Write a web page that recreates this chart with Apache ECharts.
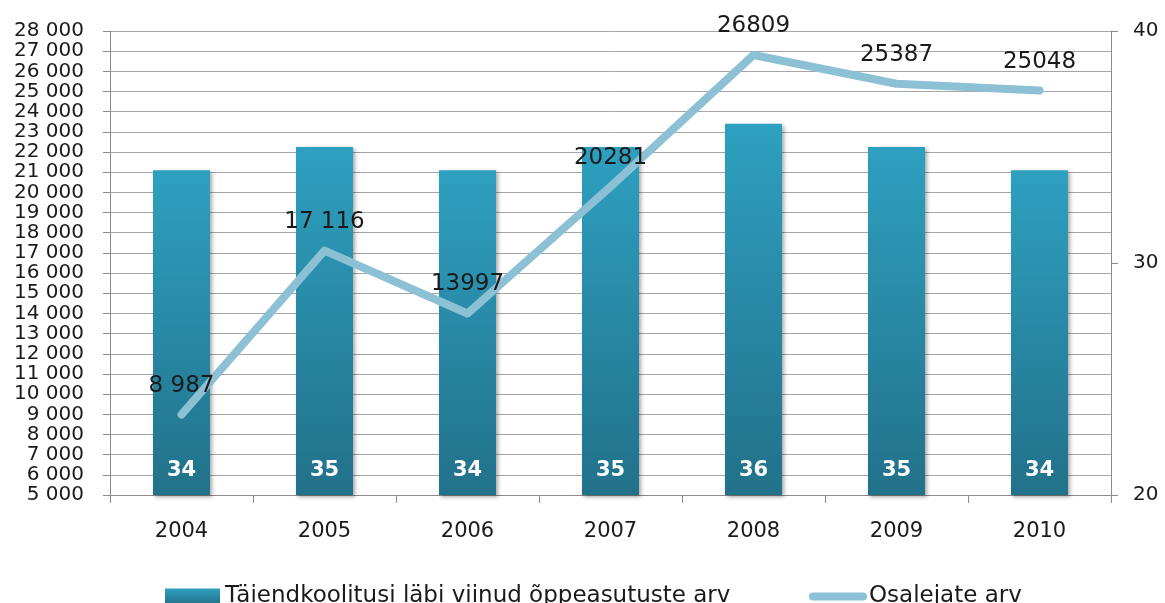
<!DOCTYPE html>
<html>
<head>
<meta charset="utf-8">
<script src="https://cdn.jsdelivr.net/npm/echarts@6/dist/echarts.min.js"></script>
<style>
html,body{margin:0;padding:0;background:#fff;}
#main{width:1165px;height:603px;}
</style>
</head>
<body>
<div id="main"></div>
<script>
const categories = ['2004', '2005', '2006', '2007', '2008', '2009', '2010'];
const institutions = [34, 35, 34, 35, 36, 35, 34];
const participants = [8987, 17116, 13997, 20281, 26809, 25387, 25048];
const participantLabels = ['8 987', '17 116', '13997', '20281', '26809', '25387', '25048'];
const barName = 'Täiendkoolitusi läbi viinud õppeasutuste arv';
const lineName = 'Osalejate arv';

const font = 'DejaVu Sans';
const chart = echarts.init(document.getElementById('main'), null, {renderer: 'canvas'});

function fmtThousands(v) {
  const s = String(v);
  if (s.length <= 3) return s;
  return s.slice(0, s.length - 3) + ' ' + s.slice(s.length - 3);
}

chart.setOption({
  animation: false,
  backgroundColor: '#ffffff',
  grid: {left: 110, right: 54, top: 31, bottom: 108, containLabel: false},
  legend: [
    {
      data: [{name: barName, icon: 'rect'}],
      left: 160, top: 580,
      itemWidth: 55, itemHeight: 16, itemGap: 10,
      textStyle: {fontFamily: font, fontSize: 23, color: '#1a1a1a'}
    },
    {
      data: [{name: lineName, icon: 'path://M4,0 L54,0 A4,4 0 0 1 54,8 L4,8 A4,4 0 0 1 4,0 Z', itemStyle: {color: '#8cc1d5'}}],
      left: 804, top: 580,
      itemWidth: 58, itemHeight: 8,
      textStyle: {fontFamily: font, fontSize: 23, color: '#1a1a1a', padding: [0, 0, 0, -3]}
    }
  ],
  xAxis: {
    type: 'category',
    data: categories,
    boundaryGap: true,
    axisLine: {show: true, lineStyle: {color: '#8c8c8c', width: 1}},
    axisTick: {show: true, length: 8, lineStyle: {color: '#8c8c8c'}},
    axisLabel: {fontFamily: font, fontSize: 21, color: '#1a1a1a', margin: 26}
  },
  yAxis: [
    {
      type: 'value',
      min: 5000, max: 28000, interval: 1000,
      position: 'left',
      axisLine: {show: true, lineStyle: {color: '#8c8c8c', width: 1}},
      axisTick: {show: true, length: 7, lineStyle: {color: '#8c8c8c'}},
      splitLine: {show: true, lineStyle: {color: '#a6a6a6', width: 1}},
      axisLabel: {fontFamily: font, fontSize: 20, color: '#1a1a1a', margin: 26, formatter: fmtThousands}
    },
    {
      type: 'value',
      min: 20, max: 40, interval: 10,
      position: 'right',
      axisLine: {show: true, lineStyle: {color: '#8c8c8c', width: 1}},
      axisTick: {show: true, length: 7, lineStyle: {color: '#8c8c8c'}},
      splitLine: {show: false},
      axisLabel: {fontFamily: font, fontSize: 20, color: '#1a1a1a', margin: 22}
    }
  ],
  series: [
    {
      name: barName,
      type: 'bar',
      yAxisIndex: 1,
      data: institutions,
      barWidth: 57,
      itemStyle: {
        color: new echarts.graphic.LinearGradient(0, 0, 0, 1, [
          {offset: 0, color: '#2ea0c0'},
          {offset: 1, color: '#22718a'}
        ]),
        shadowColor: 'rgba(0,0,0,0.35)',
        shadowBlur: 4,
        shadowOffsetX: 2,
        shadowOffsetY: 2
      },
      label: {
        show: true,
        position: 'insideBottom',
        distance: 14,
        color: '#ffffff',
        fontFamily: font,
        fontWeight: 'bold',
        fontSize: 21
      },
      z: 2
    },
    {
      name: lineName,
      type: 'line',
      yAxisIndex: 0,
      data: participants,
      symbol: 'circle',
      symbolSize: 1,
      showSymbol: true,
      lineStyle: {color: '#8cc1d5', width: 8, cap: 'round', join: 'round'},
      itemStyle: {color: '#8cc1d5'},
      label: {
        show: true,
        position: 'top',
        distance: 17,
        fontFamily: font,
        fontSize: 23,
        color: '#1a1a1a',
        formatter: p => participantLabels[p.dataIndex]
      },
      z: 3
    }
  ]
});
</script>
</body>
</html>
